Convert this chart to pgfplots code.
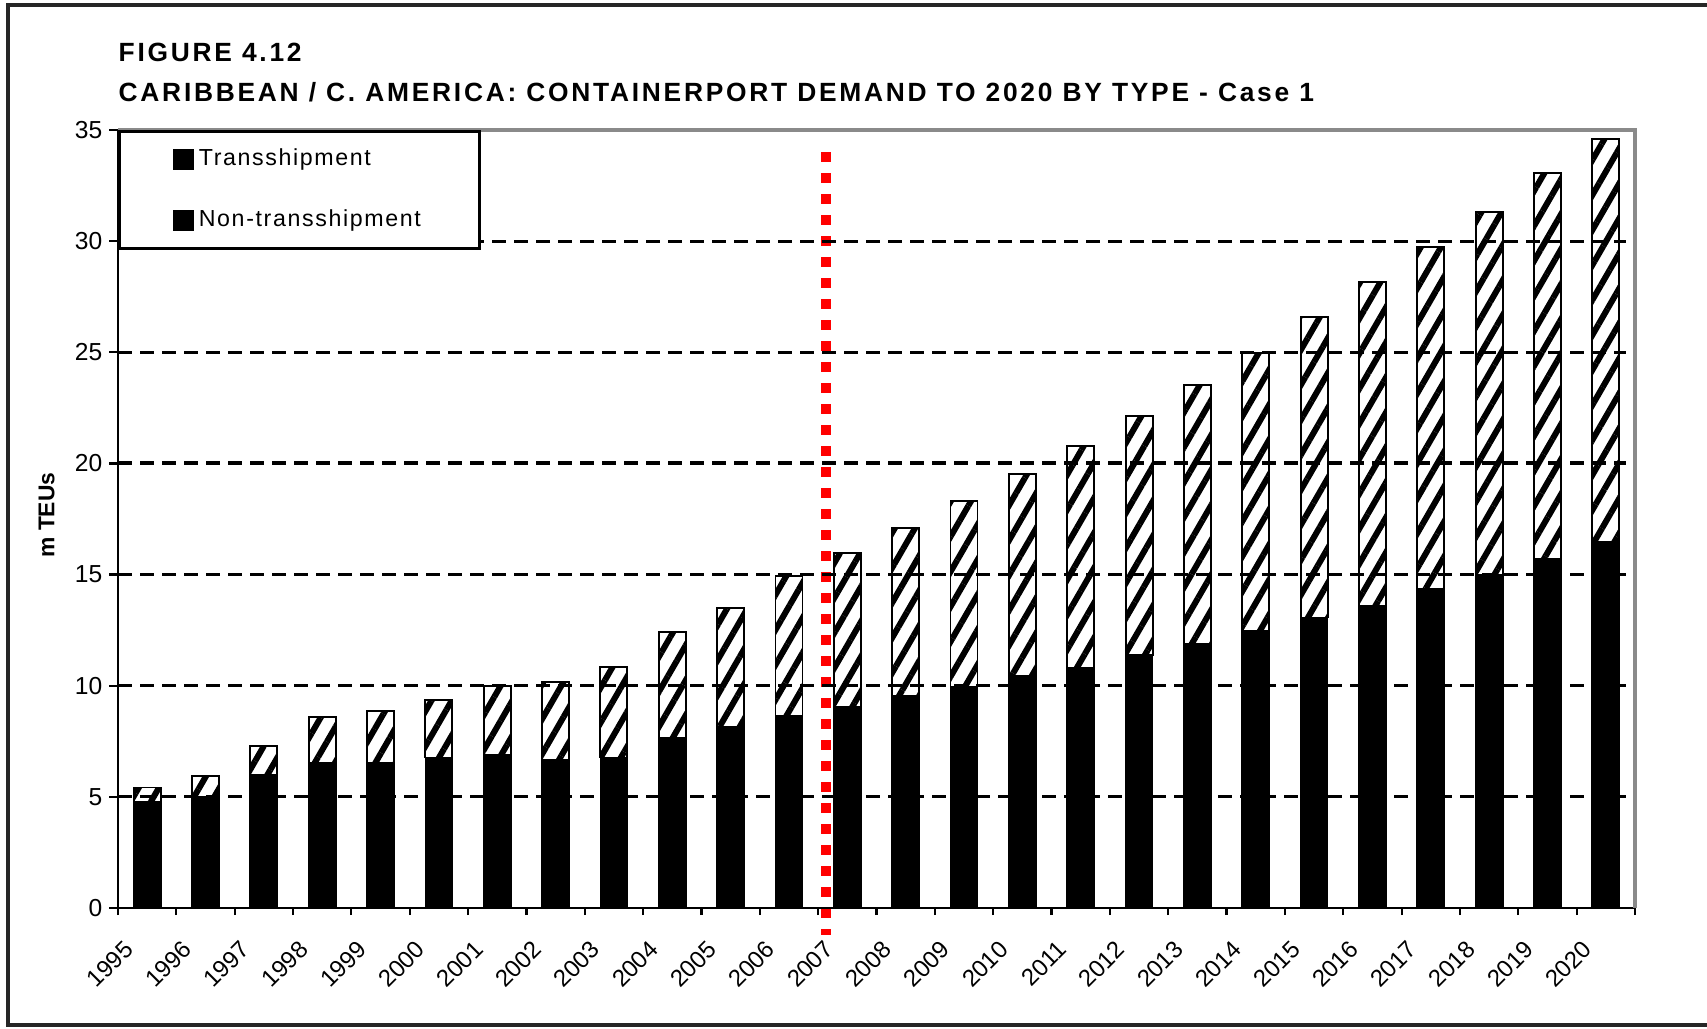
\documentclass[border=0pt]{standalone}
\usepackage{fontspec}
\setmainfont{Liberation Sans}
\newfontfamily\titlefont[LetterSpace=10.4]{Liberation Sans}
\newfontfamily\legfont[LetterSpace=7]{Liberation Sans}
\usepackage{pgfplots}
\pgfplotsset{compat=1.18}
\usetikzlibrary{patterns.meta}
\definecolor{framegray}{HTML}{8A8A8A}

\pgfplotstableread{
idx year non trans
0 1995 4.78 0.64
1 1996 5.01 0.93
2 1997 5.97 1.30
3 1998 6.54 2.04
4 1999 6.51 2.34
5 2000 6.77 2.60
6 2001 6.88 3.12
7 2002 6.66 3.50
8 2003 6.77 4.06
9 2004 7.67 4.74
10 2005 8.13 5.37
11 2006 8.66 6.27
12 2007 9.06 6.90
13 2008 9.54 7.54
14 2009 9.94 8.36
15 2010 10.43 9.10
16 2011 10.82 9.98
17 2012 11.40 10.72
18 2013 11.90 11.64
19 2014 12.48 12.48
20 2015 13.07 13.51
21 2016 13.60 14.55
22 2017 14.33 15.42
23 2018 15.00 16.30
24 2019 15.70 17.35
25 2020 16.45 18.15
}\datatable

\begin{document}
\begin{tikzpicture}
\useasboundingbox (0,0) rectangle (17.07,10.28);
% outer frame
\draw[black!85, line width=0.045cm] (17.6,10.23) -- (0.08,10.23) -- (0.08,0.03) -- (17.6,0.03);
% titles
\node[anchor=base west, inner sep=0, font={\titlefont\bfseries\fontsize{7.5}{9}\selectfont}] at (1.18,9.66) {FIGURE 4.12};
\node[anchor=base west, inner sep=0, font={\titlefont\bfseries\fontsize{7.5}{9}\selectfont}] at (1.18,9.26) {CARIBBEAN / C. AMERICA: CONTAINERPORT DEMAND TO 2020 BY TYPE - Case 1};

\begin{axis}[
  at={(1.18cm,1.20cm)}, anchor=south west,
  scale only axis, width=15.17cm, height=7.78cm,
  xmin=-0.5, xmax=25.5, ymin=0, ymax=35,
  ybar stacked, bar width=0.27cm,
  clip=false,
  axis line style={draw=none},
  tick align=outside,
  xtick pos=bottom, ytick pos=left,
  xtick={0,...,25},
  xticklabels={1995,1996,1997,1998,1999,2000,2001,2002,2003,2004,2005,2006,2007,2008,2009,2010,2011,2012,2013,2014,2015,2016,2017,2018,2019,2020},
  minor xtick={-0.5,0.5,...,25.5},
  major x tick style={draw=none},
  minor x tick style={black, line width=0.022cm},
  minor tick length=0.07cm,
  ytick={0,5,...,35},
  major y tick style={black, line width=0.022cm},
  major tick length=0.09cm,
  /pgf/number format/assume math mode=true,
  yticklabel style={font=\fontsize{7}{8}\selectfont, inner sep=0pt, anchor=east, xshift=-0.06cm},
  xticklabel style={font=\fontsize{6.8}{8}\selectfont, inner sep=0pt, xshift=-0.18cm, yshift=-0.28cm, rotate=45, anchor=east},
  ylabel={m TEUs},
  ylabel style={font=\bfseries\fontsize{6.5}{8}\selectfont, at={(axis description cs:-0.047,0.505)}, rotate=0, anchor=center},
  legend image code/.code={\fill[black] (0cm,-0.095cm) rectangle (0.19cm,0.095cm);},
  reverse legend,
  legend style={at={(0,1)}, anchor=north west, draw=black, line width=0.8pt, fill=white,
    font=\legfont\fontsize{6.6}{8}\selectfont, inner xsep=0.54cm, inner ysep=0.14cm, row sep=0.33cm,
    nodes={inner xsep=0.045cm, inner ysep=0.03cm}},
  legend cell align=left,
]
% gridlines
\foreach \yy in {5,10,15,25,30}{
  \edef\tmp{\noexpand\draw[black, line width=0.03cm, dash pattern=on 0.14cm off 0.08cm] (axis cs:-0.5,\yy) -- (axis cs:25.35,\yy);}\tmp
}
\draw[black, line width=0.04cm, dash pattern=on 0.14cm off 0.08cm] (axis cs:-0.5,20) -- (axis cs:25.35,20);

\addplot[fill=black, draw=black, line width=0.5pt] table[x=idx, y=non] {\datatable};
\addlegendentry{Non-transshipment}
\addplot[draw=black, line width=0.55pt, preaction={fill=white}, pattern={Lines[angle=60, distance=0.175cm, line width=0.06cm]}] table[x=idx, y=trans] {\datatable};
\addlegendentry{Transshipment}

% axis frame
\draw[framegray, line width=0.045cm] (rel axis cs:0,1) -- (rel axis cs:1,1) -- (rel axis cs:1,0);
\draw[black, line width=0.028cm] (rel axis cs:0,1) -- (rel axis cs:0,0) -- (rel axis cs:1,0);
% forecast divider
\draw[red, line width=0.1cm, dash pattern=on 0.1cm off 0.11cm] (axis cs:11.63,34.0) -- (axis cs:11.63,-1.2);
\end{axis}
\end{tikzpicture}
\end{document}
